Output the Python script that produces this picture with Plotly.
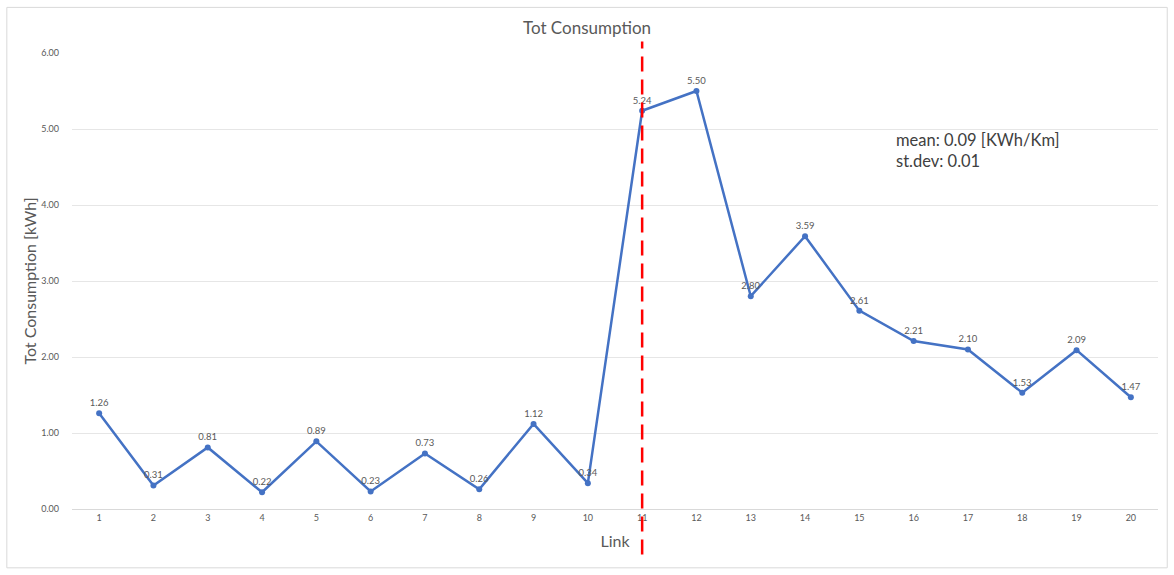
import plotly.graph_objects as go

links = list(range(1, 21))
consumption = [1.26, 0.31, 0.81, 0.22, 0.89, 0.23, 0.73, 0.26, 1.12, 0.34,
               5.24, 5.50, 2.80, 3.59, 2.61, 2.21, 2.10, 1.53, 2.09, 1.47]
y_ticks = [0, 1, 2, 3, 4, 5, 6]
marker_link = 11
stats_text = "mean: 0.09 [KWh/Km]<br>st.dev: 0.01"

FONT = "Lato, 'Open Sans', sans-serif"

fig = go.Figure()
fig.add_trace(go.Scatter(
    x=links, y=consumption, mode="lines+markers+text",
    line=dict(color="#4472C4", width=2.5),
    marker=dict(color="#4472C4", size=6),
    text=[f"{v:.2f}" for v in consumption],
    textposition="top center",
    textfont=dict(size=9.5, color="#595959", family=FONT),
    cliponaxis=False, showlegend=False, hoverinfo="x+y",
))

fig.add_shape(type="line", xref="x", yref="paper",
              x0=marker_link, x1=marker_link, y0=-0.1, y1=1.025,
              line=dict(color="#FF0000", width=2.5, dash="15px,8px"))

fig.add_shape(type="rect", xref="paper", yref="paper",
              x0=-0.06, x1=1.0085, y0=-0.129, y1=1.1,
              line=dict(color="#D9D9D9", width=1))

fig.add_annotation(xref="paper", yref="paper", x=0.757, y=0.835,
                   xanchor="left", yanchor="top", align="left",
                   text=stats_text, showarrow=False,
                   font=dict(size=16.5, color="#404040", family=FONT))

fig.update_layout(
    width=1174, height=575,
    margin=dict(l=72, r=16, t=53, b=66),
    paper_bgcolor="white", plot_bgcolor="white",
    font=dict(family=FONT, color="#595959"),
    title=dict(text="Tot Consumption", x=0.5, xanchor="center",
               y=0.951, yanchor="middle",
               font=dict(size=17, color="#595959", family=FONT)),
    xaxis=dict(range=[0.5, 20.5], tickmode="array", tickvals=links,
               ticktext=[str(v) for v in links], showgrid=False,
               showline=True, linecolor="#D9D9D9", linewidth=1,
               ticks="", tickfont=dict(size=9, color="#595959"),
               title=dict(text="Link", standoff=14,
                          font=dict(size=16, color="#595959")),
               zeroline=False),
    yaxis=dict(range=[0, 6], tickmode="array", tickvals=y_ticks,
               tickformat=".2f", showgrid=True, gridcolor="#E6E6E6",
               gridwidth=1, zeroline=False, showline=False, ticks="",
               ticklabelstandoff=12,
               tickfont=dict(size=9, color="#595959"),
               title=dict(text="Tot Consumption [kWh]", standoff=0,
                          font=dict(size=16, color="#595959"))),
)

fig.write_html("out.html")
